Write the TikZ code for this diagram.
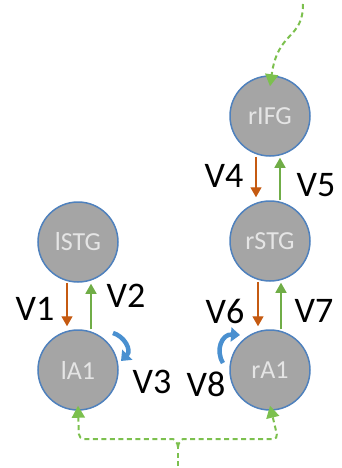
\documentclass[tikz,border=0pt]{standalone}
\usepackage{fontspec}
\setmainfont{Carlito}
\usetikzlibrary{arrows.meta,calc}
\definecolor{cfill}{HTML}{A5A5A5}
\definecolor{cedge}{HTML}{4F81BD}
\definecolor{corange}{HTML}{C55A11}
\definecolor{cgreen}{HTML}{70AD47}
\definecolor{cdash}{HTML}{7CC04E}
\definecolor{cloop}{HTML}{4A90D0}
\tikzset{
  region/.style={circle, minimum size=80pt, inner sep=0pt, fill=cfill, draw=cedge, line width=1.5pt,
    text=white!90!black, font=\fontsize{26}{26}\selectfont},
  vlabel/.style={font=\fontsize{36}{36}\selectfont, text=black, inner sep=0pt},
  downarr/.style={draw=corange, line width=1.4pt, -{Triangle[width=11pt,length=10pt]}, shorten >=3pt},
  uparr/.style={draw=cgreen, line width=1.4pt, -{Triangle[width=11pt,length=10pt]}, shorten >=1pt},
  looparr/.style={draw=cloop, line width=4.5pt, -{Triangle[width=14pt,length=9pt]}},
  dasharr/.style={draw=cdash, line width=2pt, dash pattern=on 5pt off 3.5pt, -{Triangle[width=13pt,length=12pt]}}
}
\begin{document}
\begin{tikzpicture}[x=1pt,y=-1pt]
\useasboundingbox (0,0) rectangle (341,468);
\node[region] (rIFG) at (270,116) {rIFG};
\node[region] (rSTG) at (270,241) {rSTG};
\node[region] (rA1) at (270,370) {rA1};
\node[region] (lSTG) at (78,242) {lSTG};
\node[region] (lA1) at (78,370) {lA1};

% vertical connections
\draw[downarr] ([xshift=-14pt]rIFG.south) -- ([xshift=-14pt]rSTG.north);
\draw[uparr] ([xshift=10pt]rSTG.north) -- ([xshift=10pt]rIFG.south);
\draw[downarr] ([xshift=-12pt]rSTG.south) -- ([xshift=-12pt]rA1.north);
\draw[uparr] ([xshift=11pt]rA1.north) -- ([xshift=11pt]rSTG.south);
\draw[downarr] ([xshift=-11pt]lSTG.south) -- ([xshift=-11pt]lA1.north);
\draw[uparr] ([xshift=13pt]lA1.north) -- ([xshift=13pt]lSTG.south);

% labels
\node[vlabel] (V1) at (35,309) {V1};
\node[vlabel] (V2) at (126,296) {V2};
\node[vlabel] (V3) at (152,382) {V3};
\node[vlabel] (V4) at (224,176) {V4};
\node[vlabel] (V5) at (316,185) {V5};
\node[vlabel] (V6) at (225,311) {V6};
\node[vlabel] (V7) at (314,311) {V7};
\node[vlabel] (V8) at (206,384) {V8};

% self loops
\draw[looparr] ($(lA1)+(35,-37)$) .. controls ($(lA1)+(46,-34)$) and ($(lA1)+(54,-20)$) .. ($(lA1)+(43,-9)$);
\draw[looparr] ($(rA1)+(-47,-7)$) .. controls ($(rA1)+(-55,-20)$) and ($(rA1)+(-48,-36)$) .. ($(rA1)+(-30,-35)$);

% top input
\coordinate (topin) at (303,4);
\draw[dasharr] (topin) .. controls (303,40) and (278,30) .. ([yshift=-11pt]rIFG.north);

% bottom input
\coordinate (botin) at (178,466);
\coordinate (botj) at (178,447);
\draw[dasharr, rounded corners=5pt] (botj) to[out=90,in=0] (168,439) -- (79,439) -- ([yshift=5pt]lA1.south);
\draw[dasharr, rounded corners=5pt] (botj) to[out=90,in=180] (188,439) -- (278,439) -- ([yshift=5pt]rA1.south);
\draw[draw=cdash, line width=2pt, dash pattern=on 5pt off 3.5pt] (botin) -- (botj);
\end{tikzpicture}
\end{document}
